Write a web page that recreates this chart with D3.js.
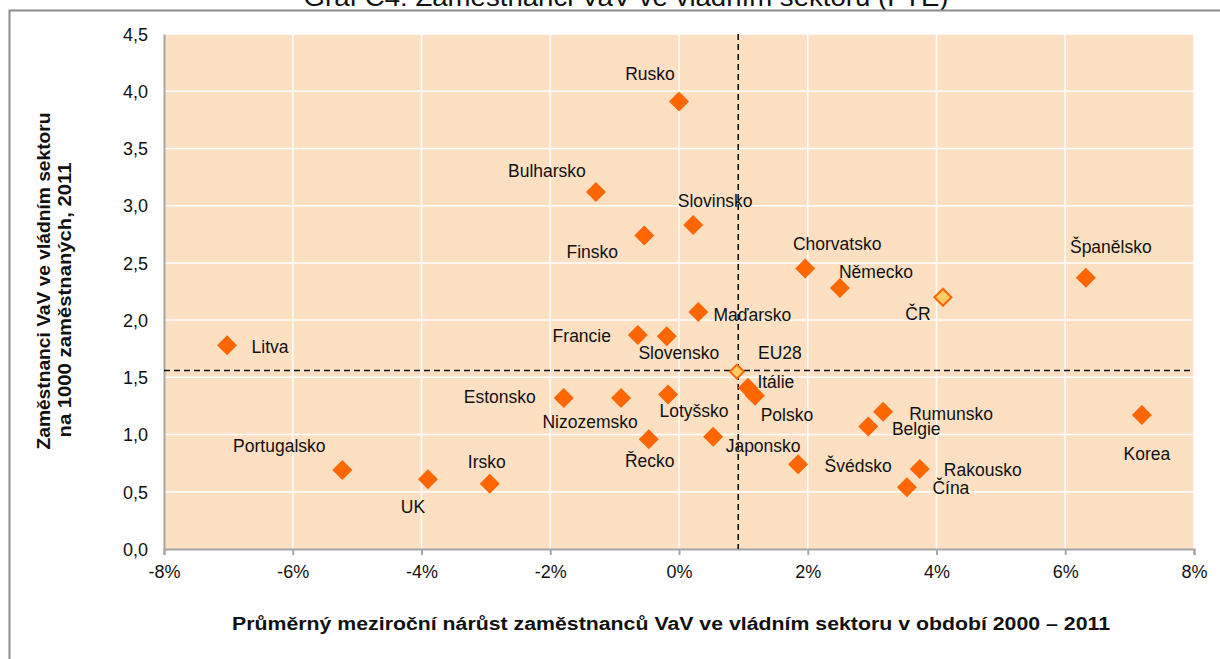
<!DOCTYPE html>
<html>
<head>
<meta charset="utf-8">
<script src="https://cdn.jsdelivr.net/npm/d3@7"></script>
<style>
  body { margin: 0; background: #fff; }
  text { font-family: "Liberation Sans", Arial, sans-serif; fill: #111; }
</style>
</head>
<body>
<div id="chart"></div>
<script>
// data
var countries = ["Litva","Portugalsko","UK","Irsko","Estonsko","Nizozemsko","Řecko","Lotyšsko",
  "Francie","Slovensko","Bulharsko","Finsko","Rusko","Slovinsko","Maďarsko","Japonsko",
  "Itálie","Polsko","Chorvatsko","Německo","Švédsko","Belgie","Rumunsko","Rakousko",
  "Čína","ČR","Španělsko","Korea","EU28"];
var growth = [-7.02,-5.23,-3.90,-2.94,-1.79,-0.90,-0.47,-0.17,
  -0.64,-0.19,-1.29,-0.54,0.00,0.22,0.30,0.53,
  1.07,1.18,1.96,2.50,1.85,2.94,3.17,3.74,
  3.54,4.10,6.32,7.19,0.90];
var staff = [1.78,0.69,0.61,0.57,1.32,1.32,0.96,1.35,
  1.87,1.86,3.12,2.74,3.91,2.83,2.07,0.98,
  1.41,1.34,2.45,2.28,0.74,1.07,1.20,0.70,
  0.54,2.20,2.37,1.17,1.55];
var xTicks = [-8,-6,-4,-2,0,2,4,6,8];
var yTicks = [0,0.5,1,1.5,2,2.5,3,3.5,4,4.5];
var refX = 0.92, refY = 1.56;

// label placement (pixels from the marker)
var labelOffset = [[43,2],[-63,-24],[-15,28],[-3,-22],[-64,-1],[-31,24],[1,22],[26,16],
  [-56,1],[12,17],[-49,-21],[-52,16],[-29,-28],[22,-24],[54,3],[50,9],
  [28,-6],[32,19],[32,-25],[36,-16],[60,2],[48,2],[68,2],[63,1],
  [44,1],[-25,17],[25,-31],[5,39],[43,-19]];

var W = 1220, H = 659;
var margin = {left: 164, right: 26, top: 34, bottom: 110};

var svg = d3.select("#chart").append("svg")
  .attr("width", W).attr("height", H);

// outer frame + title (cut by the top edge, as in the source)
svg.append("text")
  .attr("x", 626).attr("y", 6)
  .attr("text-anchor", "middle")
  .attr("textLength", 645).attr("lengthAdjust", "spacingAndGlyphs")
  .style("font-size", "25px")
  .text("Graf C4: Zaměstnanci VaV ve vládním sektoru (FTE)");
svg.append("path")
  .attr("d", "M9.5," + H + "V10.5H" + W)
  .attr("fill", "none").attr("stroke", "#8c8c8c").attr("stroke-width", 2);

var x = d3.scaleLinear().domain([-8, 8]).range([margin.left, W - margin.right]);
var y = d3.scaleLinear().domain([0, 4.5]).range([H - margin.bottom, margin.top]);

// plot background
svg.append("rect")
  .attr("x", x(-8)).attr("y", y(4.5))
  .attr("width", x(8) - x(-8)).attr("height", y(0) - y(4.5))
  .attr("fill", "#fddfc1");

// gridlines
svg.append("g").selectAll("line").data(xTicks.slice(1))
  .enter().append("line")
  .attr("x1", d => x(d)).attr("x2", d => x(d))
  .attr("y1", y(0)).attr("y2", y(4.5))
  .attr("stroke", "#fff").attr("stroke-width", 1.5);
svg.append("g").selectAll("line").data(yTicks.slice(1))
  .enter().append("line")
  .attr("x1", x(-8)).attr("x2", x(8))
  .attr("y1", d => y(d)).attr("y2", d => y(d))
  .attr("stroke", "#fff").attr("stroke-width", 1.5);

// axes
var xAxis = svg.append("g")
  .attr("transform", "translate(0," + y(0) + ")")
  .call(d3.axisBottom(x).tickValues(xTicks).tickSize(6).tickPadding(10)
    .tickFormat(d => d + "%"));
var yAxis = svg.append("g")
  .attr("transform", "translate(" + x(-8) + ",0)")
  .call(d3.axisLeft(y).tickValues(yTicks).tickSize(0).tickPadding(16)
    .tickFormat(d => d3.format(".1f")(d).replace(".", ",")));
[xAxis, yAxis].forEach(function(a) {
  a.select(".domain").attr("stroke", "#a6a6a6").attr("stroke-width", 2);
  a.selectAll(".tick line").attr("stroke", "#a6a6a6").attr("stroke-width", 2);
  a.selectAll("text").style("font-size", "18px")
    .style("font-family", "'Liberation Sans', Arial, sans-serif").attr("fill", "#111");
});
yAxis.selectAll("text").attr("dy", "0.35em");

// dashed reference lines
svg.append("line")
  .attr("x1", x(refX)).attr("x2", x(refX)).attr("y1", y(4.5)).attr("y2", y(0))
  .attr("stroke", "#111").attr("stroke-width", 1.6).attr("stroke-dasharray", "6,4");
svg.append("line")
  .attr("x1", x(-8)).attr("x2", x(8)).attr("y1", y(refY)).attr("y2", y(refY))
  .attr("stroke", "#111").attr("stroke-width", 1.6).attr("stroke-dasharray", "6,4");

// markers
var pts = countries.map((c, i) => ({name: c, gx: growth[i], sy: staff[i], off: labelOffset[i]}));
function diamond(r) { return "M0," + (-r) + "L" + r + ",0L0," + r + "L" + (-r) + ",0Z"; }

svg.append("g").selectAll("path").data(pts)
  .enter().append("path")
  .attr("transform", d => "translate(" + x(d.gx) + "," + y(d.sy) + ")")
  .attr("d", d => d.name == "EU28" ? diamond(7) : d.name == "ČR" ? diamond(8.5) : diamond(10))
  .attr("fill", d => (d.name == "ČR" || d.name == "EU28") ? "#ffcc66" : "#ff6600")
  .attr("stroke", d => (d.name == "ČR" || d.name == "EU28") ? "#ff6600" : "none")
  .attr("stroke-width", 2);

// labels
svg.append("g").selectAll("text").data(pts)
  .enter().append("text")
  .attr("x", d => x(d.gx) + d.off[0])
  .attr("y", d => y(d.sy) + d.off[1])
  .attr("dy", "0.35em")
  .attr("text-anchor", "middle")
  .style("font-size", "17.5px")
  .text(d => d.name);

// axis titles
svg.append("text")
  .attr("x", 671).attr("y", 630)
  .attr("text-anchor", "middle")
  .attr("textLength", 878).attr("lengthAdjust", "spacingAndGlyphs")
  .style("font-size", "18px").style("font-weight", "bold")
  .text("Průměrný meziroční nárůst zaměstnanců VaV ve vládním sektoru v období 2000 – 2011");
var yt = svg.append("text")
  .attr("transform", "rotate(-90)")
  .attr("text-anchor", "middle")
  .style("font-size", "18px").style("font-weight", "bold");
yt.append("tspan").attr("x", -281).attr("y", 50)
  .attr("textLength", 337).attr("lengthAdjust", "spacingAndGlyphs")
  .text("Zaměstnanci VaV ve vládním  sektoru");
yt.append("tspan").attr("x", -300).attr("y", 71)
  .attr("textLength", 275).attr("lengthAdjust", "spacingAndGlyphs")
  .text("na 1000 zaměstnaných, 2011");
</script>
</body>
</html>
